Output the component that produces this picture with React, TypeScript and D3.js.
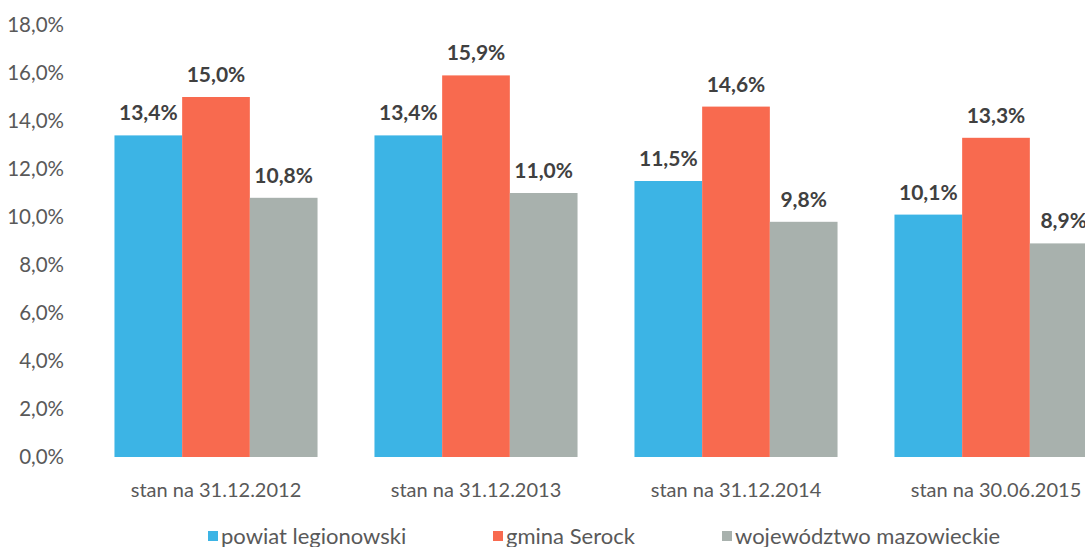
import React from "react";
import * as d3 from "d3";

const categories = ["stan na 31.12.2012", "stan na 31.12.2013", "stan na 31.12.2014", "stan na 30.06.2015"];
const seriesNames = ["powiat legionowski", "gmina Serock", "województwo mazowieckie"];
const powiat = [13.4, 13.4, 11.5, 10.1];
const gmina = [15.0, 15.9, 14.6, 13.3];
const wojewodztwo = [10.8, 11.0, 9.8, 8.9];
const yTicks = [0, 2, 4, 6, 8, 10, 12, 14, 16, 18];
const colors = ["#3cb4e5", "#f86a4f", "#a8b1ad"];

const W = 1085;
const H = 547;
const FONT = "Lato, 'Open Sans', sans-serif";
const fmt = (v: number) => v.toFixed(1).replace(".", ",") + "%";

export default function App() {
  const series = [powiat, gmina, wojewodztwo];
  const y = d3.scaleLinear().domain([0, 18]).range([457, 25]);
  const x = d3
    .scaleBand<string>()
    .domain(categories)
    .range([86, 1126])
    .paddingInner(0.219)
    .paddingOuter(0.1095);
  const xs = d3
    .scaleBand<string>()
    .domain(seriesNames)
    .range([0, x.bandwidth()]);

  const legendX = [208, 493, 722];

  return (
    <svg
      width={W}
      height={H}
      style={{ position: "absolute", left: 0, top: 0, display: "block", background: "#fff" }}
      fontFamily={FONT}
    >
      {yTicks.map((t) => (
        <text
          key={t}
          x={64}
          y={y(t)}
          dy="0.35em"
          textAnchor="end"
          fontSize={20.5}
          fill="#595959"
        >
          {fmt(t)}
        </text>
      ))}
      {categories.map((c, i) => (
        <g key={c} transform={`translate(${x(c)},0)`}>
          {series.map((s, j) => (
            <rect
              key={j}
              x={xs(seriesNames[j])}
              y={y(s[i])}
              width={xs.bandwidth()}
              height={y(0) - y(s[i])}
              fill={colors[j]}
            />
          ))}
          {series.map((s, j) => (
            <text
              key={"l" + j}
              x={(xs(seriesNames[j]) as number) + xs.bandwidth() / 2}
              y={y(s[i]) - 15}
              textAnchor="middle"
              fontSize={21}
              fontWeight="bold"
              fill="#404040"
            >
              {fmt(s[i])}
            </text>
          ))}
          <text
            x={x.bandwidth() / 2}
            y={497}
            textAnchor="middle"
            fontSize={20}
            fill="#595959"
          >
            {c}
          </text>
        </g>
      ))}
      {seriesNames.map((n, j) => (
        <g key={n}>
          <rect x={legendX[j]} y={531} width={10} height={10} fill={colors[j]} />
          <text x={legendX[j] + 13} y={544} fontSize={22} fill="#595959">
            {n}
          </text>
        </g>
      ))}
    </svg>
  );
}
